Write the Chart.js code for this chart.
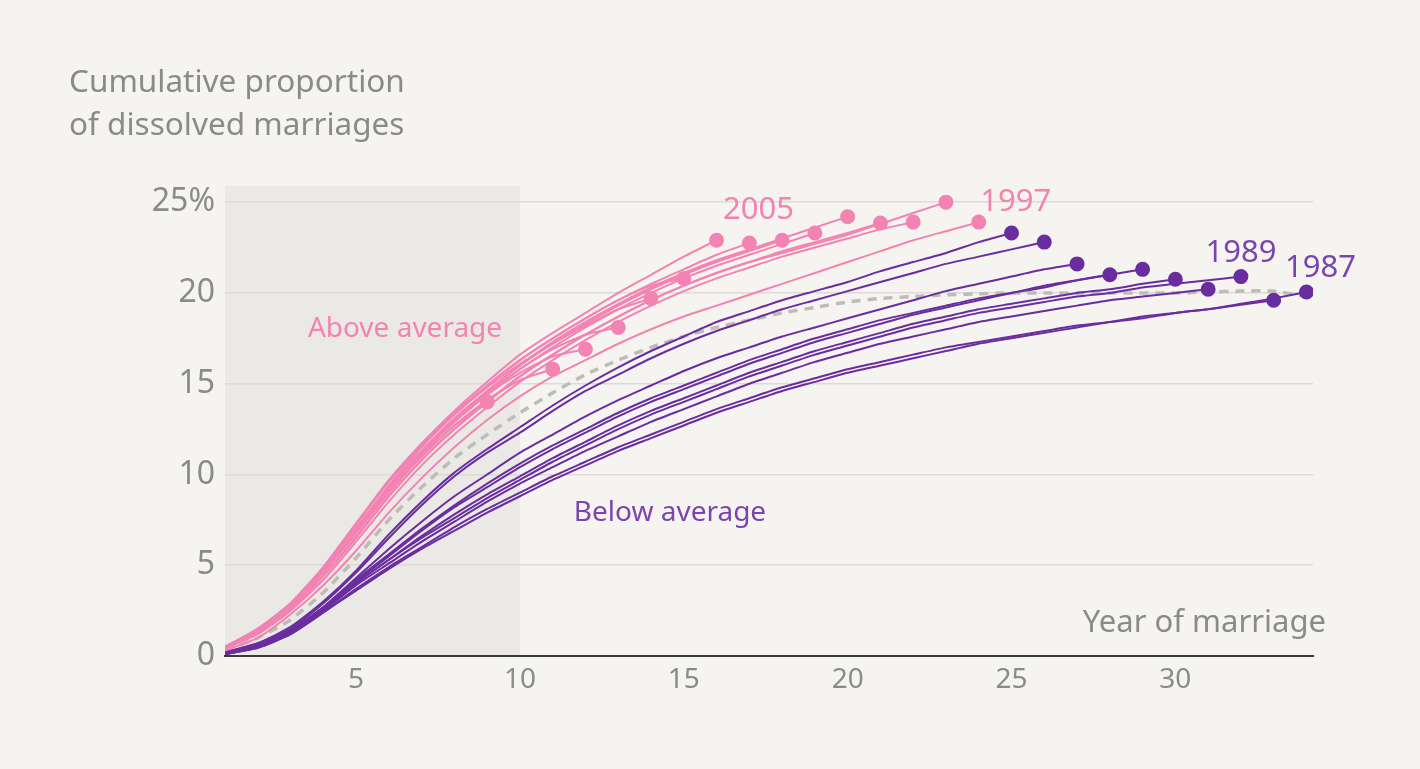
<!DOCTYPE html>
<html>
<head>
<meta charset="utf-8">
<script src="https://cdn.jsdelivr.net/npm/chart.js@4"></script>
<style>
  html,body{margin:0;padding:0;background:#f5f4f0;}
  canvas{display:block;}
</style>
</head>
<body>
<canvas id="c" width="1420" height="769"></canvas>
<script>
// ---- Data: cumulative proportion (%) of dissolved marriages by year of marriage (1, 2, 3, ...) ----
const xTicks = [5, 10, 15, 20, 25, 30];
const yTicks = [0, 5, 10, 15, 20, 25];

// Below-average cohorts (purple)
const c1987 = [0.1,0.45,1.2,2.4,3.6,4.8,5.9,6.9,7.9,8.8,9.7,10.5,11.3,12.0,12.7,13.4,14.0,14.6,15.1,15.6,16.0,16.4,16.8,17.2,17.5,17.8,18.1,18.4,18.6,18.9,19.1,19.4,19.7,20.05];
const c1988 = [0.1,0.45,1.2,2.4,3.7,4.9,6.0,7.1,8.1,9.0,9.9,10.7,11.5,12.2,12.9,13.6,14.2,14.8,15.3,15.8,16.2,16.6,17.0,17.3,17.6,17.9,18.2,18.4,18.7,18.9,19.1,19.35,19.6];
const c1989 = [0.15,0.55,1.3,2.6,4.0,5.3,6.5,7.6,8.7,9.7,10.7,11.6,12.5,13.3,14.0,14.7,15.4,16.0,16.6,17.1,17.6,18.1,18.5,18.9,19.2,19.5,19.8,20.0,20.3,20.5,20.7,20.9];
const c1990 = [0.1,0.5,1.3,2.5,3.9,5.1,6.3,7.4,8.5,9.5,10.4,11.3,12.1,12.9,13.6,14.3,15.0,15.6,16.2,16.7,17.2,17.6,18.0,18.4,18.7,19.0,19.3,19.6,19.8,20.0,20.2];
const c1991 = [0.15,0.55,1.3,2.6,4.0,5.3,6.6,7.8,8.9,9.9,10.9,11.8,12.7,13.5,14.2,14.9,15.6,16.2,16.8,17.3,17.8,18.3,18.7,19.1,19.4,19.7,20.0,20.2,20.5,20.75];
const c1992 = [0.15,0.55,1.35,2.6,4.1,5.5,6.9,8.2,9.3,10.4,11.4,12.3,13.2,14.0,14.7,15.4,16.1,16.7,17.3,17.8,18.3,18.8,19.2,19.6,20.0,20.4,20.7,21.0,21.3];
const c1993 = [0.15,0.6,1.4,2.7,4.2,5.6,7.0,8.3,9.5,10.6,11.6,12.5,13.4,14.2,14.9,15.6,16.3,16.9,17.5,18.0,18.5,18.9,19.3,19.7,20.0,20.3,20.7,21.0];
const c1994 = [0.15,0.6,1.4,2.7,4.3,5.9,7.4,8.8,10.0,11.2,12.2,13.2,14.1,14.9,15.7,16.4,17.0,17.6,18.1,18.6,19.1,19.6,20.1,20.5,20.9,21.3,21.6];
const c1995 = [0.2,0.7,1.5,2.9,4.6,6.5,8.3,9.9,11.2,12.3,13.5,14.6,15.5,16.4,17.2,17.9,18.5,19.1,19.6,20.1,20.6,21.1,21.6,22.0,22.4,22.8];
const c1996 = [0.2,0.7,1.6,3.0,4.7,6.7,8.5,10.1,11.4,12.6,13.8,14.9,15.9,16.8,17.6,18.4,19.0,19.6,20.1,20.6,21.2,21.7,22.2,22.8,23.3];

// Above-average cohorts (pink)
const c1997 = [0.3,1.0,2.3,3.9,5.8,7.9,9.8,11.5,13.0,14.3,15.4,16.3,17.2,18.0,18.7,19.3,19.9,20.5,21.1,21.7,22.3,22.9,23.4,23.9];
const c1998 = [0.4,1.3,2.6,4.4,6.6,8.8,10.8,12.5,14.0,15.4,16.6,17.7,18.7,19.6,20.4,21.1,21.7,22.2,22.7,23.2,23.8,24.4,25.0];
const c1999 = [0.4,1.2,2.5,4.2,6.3,8.5,10.5,12.2,13.7,15.1,16.3,17.4,18.4,19.3,20.1,20.8,21.4,22.0,22.5,23.0,23.5,23.9];
const c2000 = [0.4,1.3,2.6,4.4,6.5,8.8,10.8,12.5,14.0,15.4,16.6,17.7,18.7,19.6,20.4,21.1,21.7,22.3,22.8,23.3,23.85];
const c2001 = [0.45,1.4,2.7,4.6,6.8,9.1,11.2,13.0,14.6,16.0,17.3,18.4,19.4,20.3,21.1,21.8,22.4,23.0,23.6,24.2];
const c2002 = [0.45,1.4,2.7,4.6,6.8,9.0,11.1,12.9,14.4,15.8,17.0,18.1,19.1,20.0,20.8,21.5,22.1,22.7,23.3];
const c2003 = [0.45,1.4,2.8,4.7,7.0,9.3,11.3,13.1,14.6,16.0,17.2,18.3,19.3,20.2,21.0,21.7,22.3,22.9];
const c2004 = [0.5,1.5,2.8,4.7,7.0,9.4,11.5,13.3,14.9,16.3,17.5,18.6,19.6,20.5,21.3,22.1,22.75];
const c2005 = [0.5,1.5,2.9,4.8,7.2,9.6,11.7,13.5,15.1,16.6,17.8,18.9,20.0,21.0,22.0,22.9];
const c2006 = [0.5,1.5,2.9,4.9,7.3,9.7,11.7,13.4,14.9,16.3,17.5,18.6,19.6,20.4,20.8];
const c2007 = [0.5,1.5,2.9,4.9,7.3,9.6,11.6,13.3,14.8,16.1,17.2,18.2,19.1,19.7];
const c2008 = [0.5,1.4,2.8,4.7,7.0,9.3,11.3,13.0,14.5,15.8,16.9,17.7,18.1];
const c2009 = [0.5,1.4,2.8,4.7,7.0,9.2,11.2,12.9,14.4,15.6,16.5,16.9];
const c2010 = [0.5,1.4,2.7,4.6,6.8,9.0,11.0,12.7,14.1,15.2,15.8];
const c2012 = [0.5,1.4,2.8,4.6,6.9,9.1,11.0,12.7,14.0];

// Average of all cohorts (grey dashed)
const average = [0.3,1.0,2.0,3.5,5.4,7.5,9.3,10.9,12.2,13.4,14.5,15.5,16.3,17.0,17.6,18.1,18.5,18.9,19.2,19.5,19.7,19.8,19.9,19.95,20.0,20.0,20.0,20.0,20.0,20.0,20.05,20.1,20.1,19.8];

const belowCohorts = [[1987,c1987],[1988,c1988],[1989,c1989],[1990,c1990],[1991,c1991],[1992,c1992],[1993,c1993],[1994,c1994],[1995,c1995],[1996,c1996]];
const aboveCohorts = [[1997,c1997],[1998,c1998],[1999,c1999],[2000,c2000],[2001,c2001],[2002,c2002],[2003,c2003],[2004,c2004],[2005,c2005],[2006,c2006],[2007,c2007],[2008,c2008],[2009,c2009],[2010,c2010],[2012,c2012]];
const labelledYears = {2005:'pink', 1997:'pink', 1989:'purple', 1987:'purple'};

// ---- Styles ----
const PINK = '#f283b3';
const PURPLE = '#6a2d9f';
const PURPLE_TEXT = '#7a45ae';
const GREY_TEXT = '#8a8a88';
const BG = '#f5f4f0';
const SHADE = '#eae9e5';
const FONT = '"Noto Sans", "Open Sans", sans-serif';

const toPts = arr => arr.map((v, i) => ({x: i + 1, y: v}));
const lastRadius = r => (ctx) => ctx.dataIndex === ctx.dataset.data.length - 1 ? r : 0;

const datasets = [];
aboveCohorts.forEach(([yr, vals]) => datasets.push({
  label: String(yr), data: toPts(vals), borderColor: PINK, backgroundColor: PINK,
  borderWidth: 2, pointRadius: lastRadius(6.5), pointHoverRadius: 0, order: 1, tension: 0.2
}));
belowCohorts.forEach(([yr, vals]) => datasets.push({
  label: String(yr), data: toPts(vals), borderColor: PURPLE, backgroundColor: PURPLE,
  borderWidth: 2, pointRadius: lastRadius(6.5), pointHoverRadius: 0, order: 2, tension: 0.2
}));
datasets.push({
  label: 'Average', data: toPts(average), borderColor: '#bdbcb8', borderWidth: 3.5,
  borderDash: [9, 7], pointRadius: 0, order: 3, tension: 0.2
});

const bgPlugin = {
  id: 'bg',
  beforeDraw(chart) {
    const {ctx, chartArea, scales: {x}} = chart;
    ctx.save();
    ctx.fillStyle = BG;
    ctx.fillRect(0, 0, chart.width, chart.height);
    ctx.fillStyle = SHADE;
    const x0 = x.getPixelForValue(1), x1 = x.getPixelForValue(10);
    ctx.fillRect(x0, chartArea.top + 2, x1 - x0, chartArea.bottom - chartArea.top - 2);
    ctx.restore();
  }
};

const textPlugin = {
  id: 'texts',
  afterDraw(chart) {
    const {ctx, scales: {x, y}} = chart;
    ctx.save();
    ctx.textBaseline = 'middle';
    ctx.fillStyle = GREY_TEXT;
    ctx.font = '31.5px ' + FONT;
    ctx.textAlign = 'left';
    ctx.fillText('Cumulative proportion', 69, 83);
    ctx.fillText('of dissolved marriages', 69, 126);
    ctx.font = '31px ' + FONT;
    ctx.textAlign = 'right';
    ctx.fillText('Year of marriage', 1326, 623);

    ctx.textAlign = 'center';
    ctx.font = '28px ' + FONT;
    ctx.fillStyle = PINK;
    ctx.fillText('Above average', 405, 329);
    ctx.fillStyle = PURPLE_TEXT;
    ctx.fillText('Below average', 670, 513);

    const all = aboveCohorts.concat(belowCohorts);
    const offsets = {2005: [42, -30], 1997: [37, -20], 1989: [0, -23], 1987: [14, -24]};
    ctx.font = '31px ' + FONT;
    all.forEach(([yr, vals]) => {
      if (!labelledYears[yr]) return;
      const px = x.getPixelForValue(vals.length), py = y.getPixelForValue(vals[vals.length - 1]);
      ctx.fillStyle = labelledYears[yr] === 'pink' ? PINK : PURPLE_TEXT;
      ctx.fillText(String(yr), px + offsets[yr][0], py + offsets[yr][1]);
    });
    ctx.restore();
  }
};

new Chart(document.getElementById('c'), {
  type: 'line',
  data: {datasets},
  options: {
    responsive: false,
    animation: false,
    events: [],
    layout: {padding: {top: 184, right: 107, left: 0, bottom: 0}},
    plugins: {legend: {display: false}, tooltip: {enabled: false}},
    scales: {
      x: {
        type: 'linear', min: 1, max: 34.2,
        afterBuildTicks: s => { s.ticks = xTicks.map(v => ({value: v})); },
        afterFit: s => { s.height = 113; },
        grid: {display: false, drawTicks: false},
        border: {display: true, color: '#3a3a3a', width: 2},
        ticks: {color: GREY_TEXT, font: {family: FONT, size: 28}, padding: 7, maxRotation: 0}
      },
      y: {
        type: 'linear', min: 0, max: 26,
        afterBuildTicks: s => { s.ticks = yTicks.map(v => ({value: v})); },
        afterFit: s => { s.width = 225; },
        grid: {color: '#dcdbd7', lineWidth: 1.5, drawTicks: false},
        border: {display: false},
        ticks: {color: GREY_TEXT, font: {family: FONT, size: 32}, padding: 10,
          callback: v => v === 25 ? '25%' : String(v)}
      }
    }
  },
  plugins: [bgPlugin, textPlugin]
});
</script>
</body>
</html>
